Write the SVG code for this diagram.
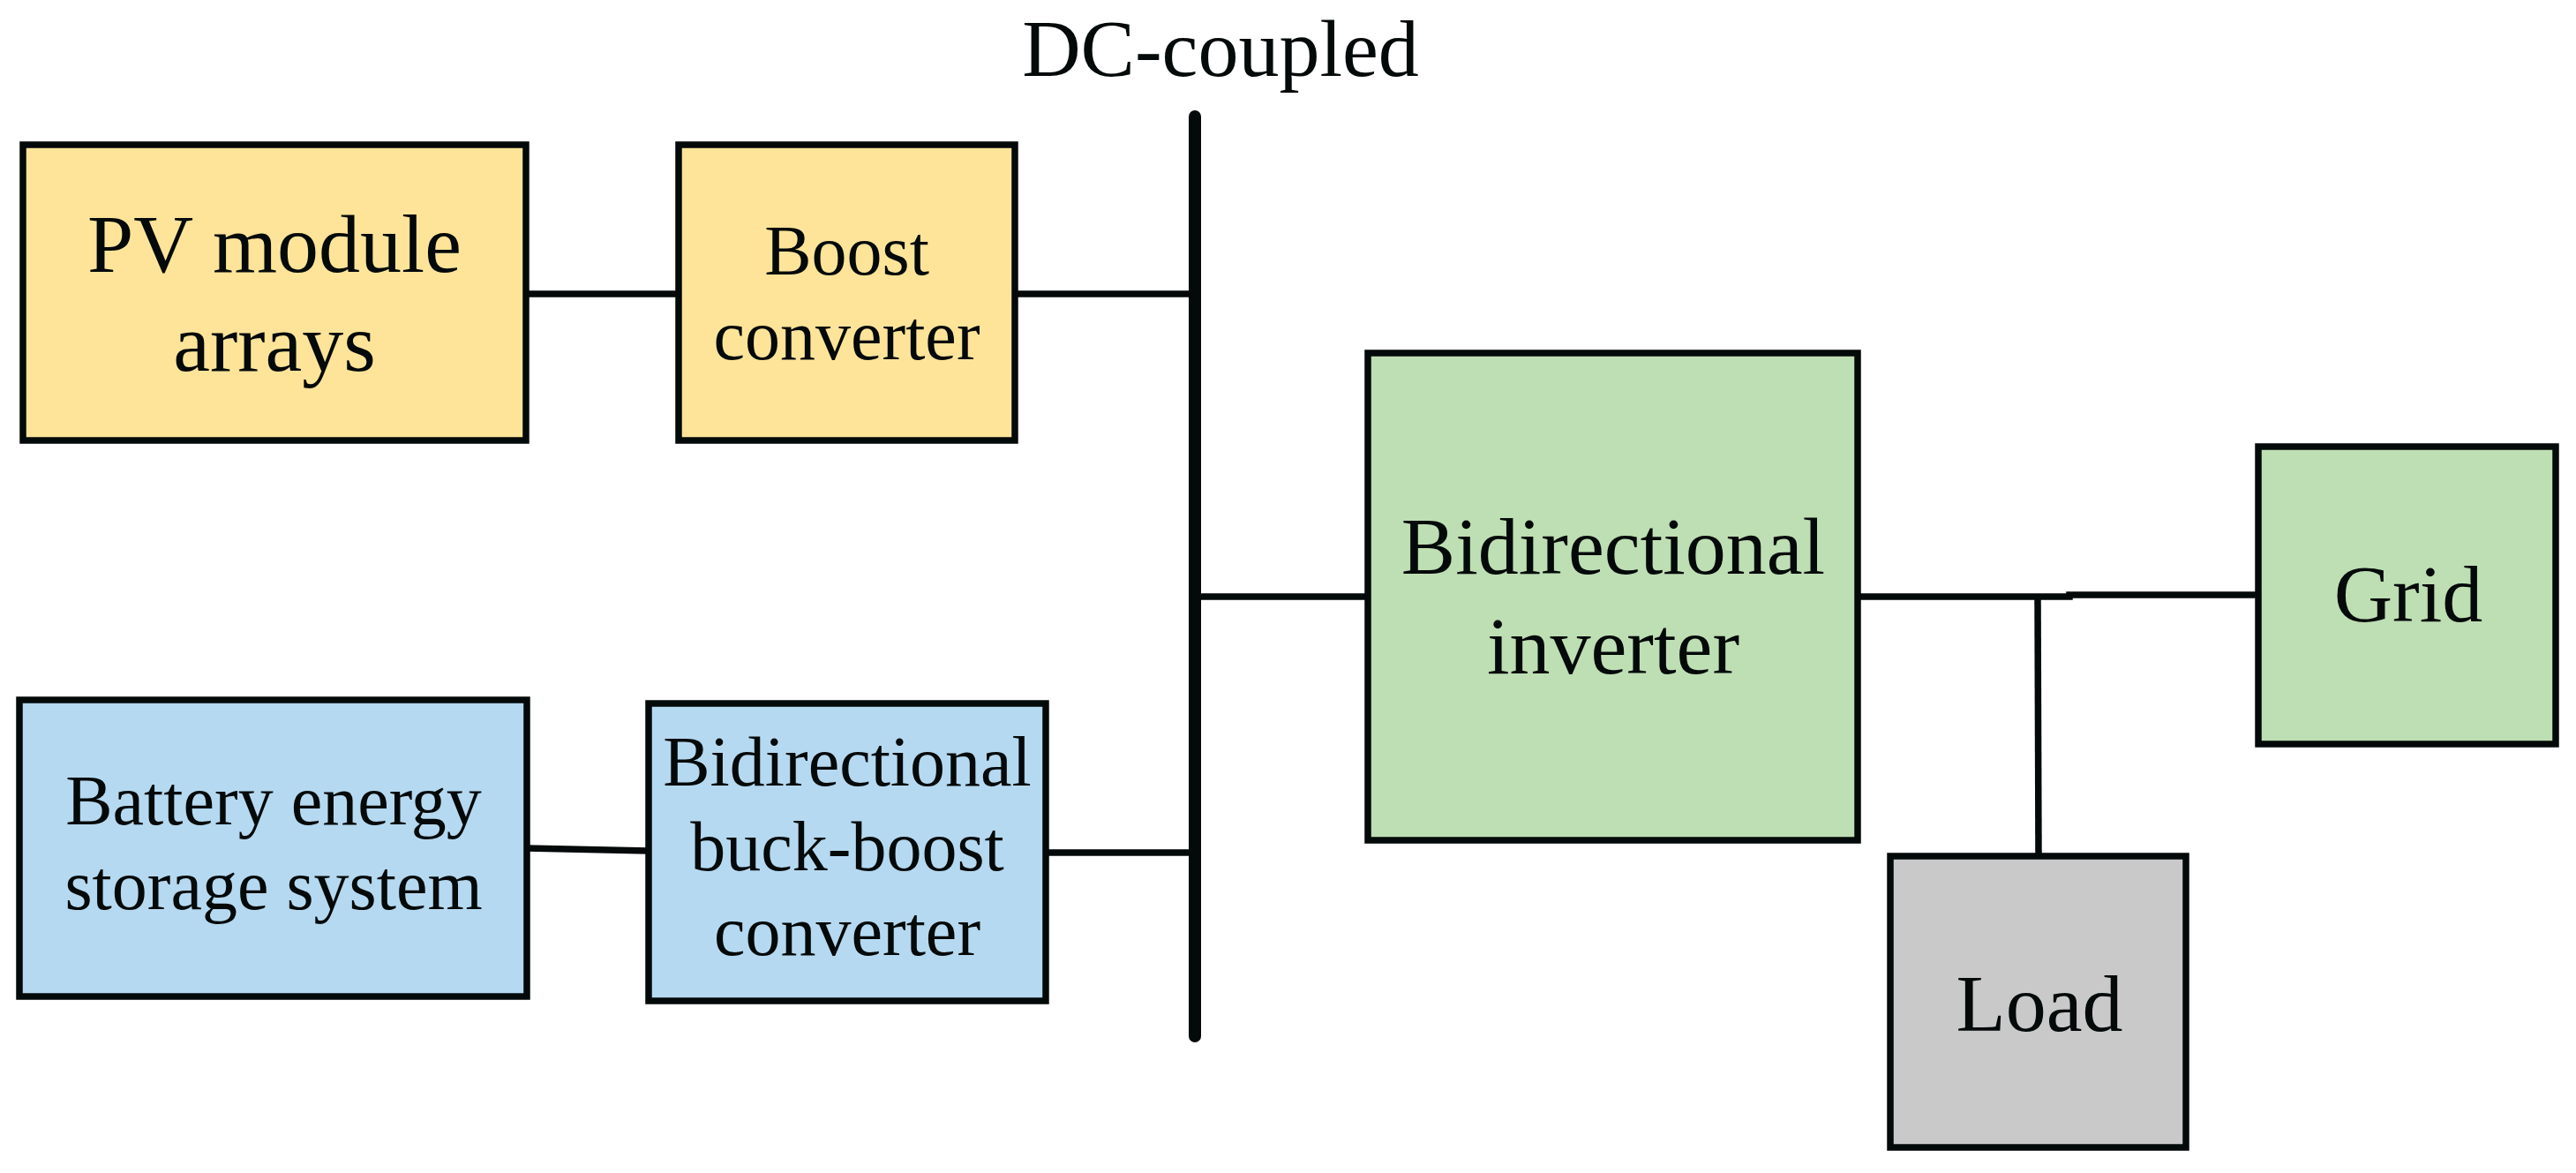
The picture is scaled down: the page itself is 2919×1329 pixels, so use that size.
<svg xmlns="http://www.w3.org/2000/svg" width="2919" height="1329" viewBox="0 0 2919 1329">
<style>
.box{stroke:#040909;stroke-width:7.5}
.y{fill:#FEE499}
.b{fill:#B5D9F0}
.g{fill:#BEDEB4}
.k{fill:#C9C9C9}
.t{font-family:"Liberation Serif","Times New Roman",serif;fill:#040909;text-anchor:middle}
.w{stroke:#040909;stroke-width:7.5;fill:none}
</style>
<rect width="2919" height="1329" fill="#ffffff"/>
<g id="connectors">
<line class="w" x1="596" y1="333" x2="769" y2="333"/>
<line class="w" x1="1150" y1="333" x2="1354" y2="333"/>
<line class="w" x1="597" y1="961" x2="735" y2="964"/>
<line class="w" x1="1185" y1="966" x2="1354" y2="966"/>
<line class="w" x1="1354" y1="676" x2="1550" y2="676"/>
<polyline class="w" points="2105,676 2345,676 2345,674 2559,674"/>
<line class="w" x1="2309" y1="676" x2="2310" y2="970"/>
</g>
<g id="dc-bus">
<line x1="1354" y1="132" x2="1354" y2="1174" stroke="#040909" stroke-width="14" stroke-linecap="round"/>
<text class="t" x="1383" y="86" font-size="92">DC-coupled</text>
</g>
<g id="pv">
<rect class="box y" x="26" y="164" width="570" height="335"/>
<text class="t" x="311" y="308" font-size="94">PV module</text>
<text class="t" x="311" y="420" font-size="94">arrays</text>
</g>
<g id="boost">
<rect class="box y" x="769" y="164" width="381" height="335"/>
<text class="t" x="959.5" y="311" font-size="80">Boost</text>
<text class="t" x="959.5" y="407" font-size="80">converter</text>
</g>
<g id="battery">
<rect class="box b" x="22" y="793" width="575" height="336"/>
<text class="t" x="310" y="934" font-size="80">Battery energy</text>
<text class="t" x="310" y="1030" font-size="80">storage system</text>
</g>
<g id="buckboost">
<rect class="box b" x="735" y="797" width="450" height="337"/>
<text class="t" x="960" y="890" font-size="80">Bidirectional</text>
<text class="t" x="960" y="986" font-size="80">buck-boost</text>
<text class="t" x="960" y="1082" font-size="80">converter</text>
</g>
<g id="inverter">
<rect class="box g" x="1550" y="400" width="555" height="552"/>
<text class="t" x="1828" y="650" font-size="92">Bidirectional</text>
<text class="t" x="1828" y="763" font-size="92">inverter</text>
</g>
<g id="grid">
<rect class="box g" x="2559" y="506" width="337" height="337"/>
<text class="t" x="2729" y="704" font-size="92">Grid</text>
</g>
<g id="load">
<rect class="box k" x="2142" y="970" width="335" height="330"/>
<text class="t" x="2311" y="1168" font-size="92">Load</text>
</g>
</svg>
